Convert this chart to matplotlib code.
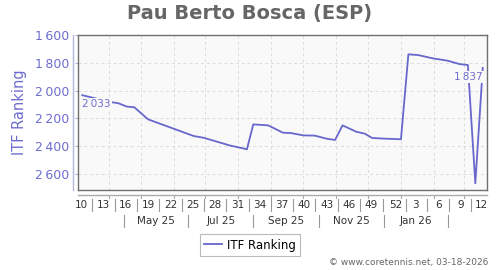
import matplotlib
matplotlib.use("Agg")
import matplotlib.pyplot as plt
import matplotlib.dates as mdates
from matplotlib.lines import Line2D
import datetime as dt

# ---- data ----
dates = ["2025-03-07", "2025-03-19", "2025-04-01", "2025-04-10", "2025-04-18",
         "2025-04-25", "2025-05-08", "2025-05-31", "2025-06-20", "2025-06-29",
         "2025-07-10", "2025-07-24", "2025-08-01", "2025-08-09", "2025-08-15",
         "2025-08-29", "2025-09-12", "2025-09-19", "2025-10-01", "2025-10-12",
         "2025-10-23", "2025-10-31", "2025-11-07", "2025-11-20", "2025-11-28",
         "2025-12-05", "2025-12-18", "2026-01-01", "2026-01-08", "2026-01-17",
         "2026-01-31", "2026-02-14", "2026-02-25", "2026-03-05", "2026-03-12",
         "2026-03-19"]
ranking = [2033, 2055, 2080, 2091, 2115, 2120, 2207, 2271, 2327, 2339,
           2363, 2395, 2408, 2422, 2243, 2250, 2303, 2305, 2322, 2324,
           2346, 2355, 2250, 2296, 2310, 2341, 2346, 2350, 1739, 1744,
           1768, 1785, 1809, 1816, 2667, 1837]

week_labels = ["10", "13", "16", "19", "22", "25", "28", "31", "34", "37", "40",
               "43", "46", "49", "52", "3", "6", "9", "12"]
week_centers = ["2025-03-06", "2025-03-27", "2025-04-17", "2025-05-08", "2025-05-29",
                "2025-06-19", "2025-07-10", "2025-07-31", "2025-08-21", "2025-09-11",
                "2025-10-02", "2025-10-23", "2025-11-13", "2025-12-04", "2025-12-27",
                "2026-01-15", "2026-02-05", "2026-02-26", "2026-03-18"]
month_labels = ["May 25", "Jul 25", "Sep 25", "Nov 25", "Jan 26"]
month_seps = ["2025-04-15", "2025-06-15", "2025-08-15", "2025-10-16",
              "2025-12-16", "2026-02-14"]
yticks = [1600, 1800, 2000, 2200, 2400, 2600]

LINE = "#6767cc"
TXT = "#6d6dcf"

def d(s):
    return mdates.date2num(dt.datetime.strptime(s, "%Y-%m-%d"))

x = [d(s) for s in dates]

fig = plt.figure(figsize=(5, 2.7), dpi=100)
ax = fig.add_axes([78/500, 80/270, 409/500, 155/270])
ax.set_facecolor("#f9f9f9")

ax.plot(x, ranking, color=LINE, lw=1.3, label="ITF Ranking", zorder=3)

x0 = mdates.date2num(dt.datetime(2025, 3, 3))
x1 = mdates.date2num(dt.datetime(2026, 3, 23))
ax.set_xlim(x0, x1)
ax.set_ylim(2715, 1600)

# grid: monthly vertical, 200-step horizontal
month_starts = [mdates.date2num(dt.datetime(2025 + (m - 1) // 12, (m - 1) % 12 + 1, 1))
                for m in range(4, 16)]
ax.set_xticks(month_starts)
ax.set_xticklabels([])
ax.tick_params(axis="x", length=0)
ax.set_yticks(yticks)
ax.set_yticklabels([f"{v // 1000}\u2009{v % 1000:03d}" for v in yticks],
                   color=TXT, fontsize=9)
ax.tick_params(axis="y", length=2, color="#b0b0e0", pad=4)
ax.grid(True, color="#dcdcdc", ls=(0, (3, 3)), lw=0.7)

for s in ax.spines.values():
    s.set_color("#6f6f6f")
    s.set_linewidth(1.0)

# separate y axis line
fig.add_artist(Line2D([73/500, 73/500], [1 - 35/270, 1 - 190/270],
                      color="#b4b4e2", lw=1.0))
# separate x axis line
fig.add_artist(Line2D([78/500, 487/500], [1 - 195/270, 1 - 195/270],
                      color="#aaaaaa", lw=1.0))
xt = ax.get_xaxis_transform()
for m in month_starts:
    ax.plot([m, m], [-0.032, -0.05], transform=xt, color="#aaaaaa", lw=0.8,
            clip_on=False)

ax.set_ylabel("ITF Ranking", color=TXT, fontsize=10.5, labelpad=6)

# week labels
wc = [d(s) for s in week_centers]
for c, lab in zip(wc, week_labels):
    ax.text(c, -0.095, lab, transform=xt, ha="center", va="center",
            fontsize=7.5, color="#333333")
for a, b in zip(wc[:-1], wc[1:]):
    m = (a + b) / 2
    ax.plot([m, m], [-0.058, -0.135], transform=xt, color="#999999", lw=0.8,
            clip_on=False)

# month labels
ms = [d(s) for s in month_seps]
for a, b, lab in zip(ms[:-1], ms[1:], month_labels):
    ax.text((a + b) / 2, -0.2, lab, transform=xt, ha="center", va="center",
            fontsize=7.5, color="#333333")
for m in ms:
    ax.plot([m, m], [-0.16, -0.24], transform=xt, color="#999999", lw=0.8,
            clip_on=False)

# value annotations
bb = dict(boxstyle="square,pad=0.1", fc="#f9f9f9", ec="none")
ax.annotate(f"2\u2009033", (x[0], ranking[0]), xytext=(0, -3), textcoords="offset points",
            ha="left", va="top", fontsize=7.5, color=TXT, bbox=bb, zorder=4)
ax.annotate(f"1\u2009837", (x[-1], ranking[-1]), xytext=(0, -3), textcoords="offset points",
            ha="right", va="top", fontsize=7.5, color=TXT, bbox=bb, zorder=4)

fig.suptitle("Pau Berto Bosca (ESP)", x=0.5, y=1 - 13/270, va="center",
             fontsize=14, fontweight="bold", color="#666666")

leg = fig.legend(loc="center", bbox_to_anchor=(250/500, 1 - 245/270), fontsize=8.5,
                 frameon=True, fancybox=False, edgecolor="#aaaaaa", handlelength=1.5,
                 handletextpad=0.4, borderpad=0.35)
leg.get_frame().set_linewidth(0.8)

fig.text(488/500, 1 - 263/270, "\u00a9 www.coretennis.net, 03-18-2026", ha="right",
         va="center", fontsize=6.5, color="#666666")

fig.savefig("out.png", dpi=100)
